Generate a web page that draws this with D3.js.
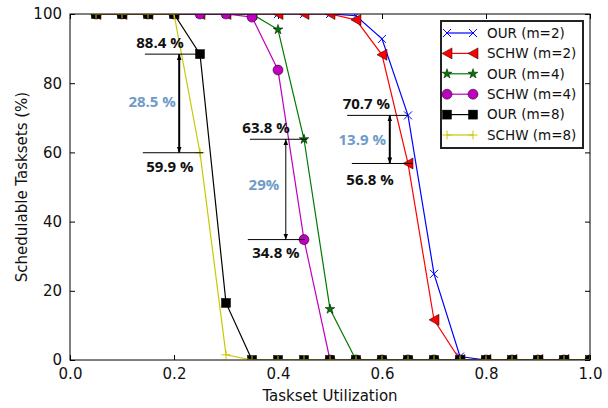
<!DOCTYPE html>
<html>
<head>
<meta charset="utf-8">
<script src="https://cdn.jsdelivr.net/npm/d3@7"></script>
<style>
  body { margin: 0; background: #fff; }
  svg { display: block; }
  .tick text { font-family: "DejaVu Sans", sans-serif; font-size: 15px; fill: #111; }
  .note { font-family: "Open Sans", sans-serif; font-weight: bold; font-size: 15px; }
</style>
</head>
<body>
<div id="chart"></div>
<script>
// utilization steps (x) and schedulable ratio per series (%)
var utilization = [0.05, 0.10, 0.15, 0.20, 0.25, 0.30, 0.35, 0.40, 0.45, 0.50,
                   0.55, 0.60, 0.65, 0.70, 0.75, 0.80, 0.85, 0.90, 0.95, 1.00];
var ourM2  = [100, 100, 100, 100, 100, 100, 100, 100, 100, 100, 99.5, 92.8, 70.7, 24.9, 1, 0, 0, 0, 0, 0];
var schwM2 = [100, 100, 100, 100, 100, 100, 100, 100, 100, 100, 98.3, 88.2, 56.8, 11.6, 0, 0, 0, 0, 0, 0];
var ourM4  = [100, 100, 100, 100, 100, 100, 100, 95.5, 63.8, 14.7, 0, 0, 0, 0, 0, 0, 0, 0, 0, 0];
var schwM4 = [100, 100, 100, 100, 100, 100, 99.1, 83.8, 34.8, 0, 0, 0, 0, 0, 0, 0, 0, 0, 0, 0];
var ourM8  = [100, 100, 100, 100, 88.4, 16.5, 0, 0, 0, 0, 0, 0, 0, 0, 0, 0, 0, 0, 0, 0];
var schwM8 = [100, 100, 100, 100, 59.9, 1.5, 0, 0, 0, 0, 0, 0, 0, 0, 0, 0, 0, 0, 0, 0];

var xTicks = [0.0, 0.2, 0.4, 0.6, 0.8, 1.0];
var yTicks = [0, 20, 40, 60, 80, 100];

var seriesNames = ["OUR (m=2)", "SCHW (m=2)", "OUR (m=4)", "SCHW (m=4)", "OUR (m=8)", "SCHW (m=8)"];
var seriesValues = [ourM2, schwM2, ourM4, schwM4, ourM8, schwM8];

// gap annotations: upper value, lower value, difference label
var gapHigh = [88.4, 63.8, 70.7];
var gapLow  = [59.9, 34.8, 56.8];
var gapText = ["28.5 %", "29%", "13.9 %"];

var styles = [
    {color: "#0000ff", marker: "x"},
    {color: "#ff0000", marker: "tri"},
    {color: "#007a00", marker: "star"},
    {color: "#bf00bf", marker: "circle"},
    {color: "#000000", marker: "square"},
    {color: "#c8c800", marker: "plus"}
];

var width = 608, height = 408;
var margin = {left: 70, right: 18, top: 14, bottom: 48};

var svg = d3.select("#chart").append("svg")
    .attr("width", width)
    .attr("height", height);

var x = d3.scaleLinear().domain([0, 1]).range([margin.left, width - margin.right]);
var y = d3.scaleLinear().domain([0, 100]).range([height - margin.bottom, margin.top]);

svg.append("clipPath").attr("id", "plot-clip")
    .append("rect")
    .attr("x", x(0)).attr("y", y(100))
    .attr("width", x(1) - x(0)).attr("height", y(0) - y(100));

// axes with inward ticks on all four sides
svg.append("g")
    .attr("transform", "translate(0," + y(0) + ")")
    .call(d3.axisBottom(x).tickValues(xTicks).tickFormat(d3.format(".1f")).tickSizeInner(-5).tickSizeOuter(0).tickPadding(8))
    .call(function(g) { g.select(".domain").remove(); });
svg.append("g")
    .attr("transform", "translate(0," + y(100) + ")")
    .call(d3.axisTop(x).tickValues(xTicks).tickFormat("").tickSizeInner(-5).tickSizeOuter(0))
    .call(function(g) { g.select(".domain").remove(); });
svg.append("g")
    .attr("transform", "translate(" + x(0) + ",0)")
    .call(d3.axisLeft(y).tickValues(yTicks).tickSizeInner(-5).tickSizeOuter(0).tickPadding(8))
    .call(function(g) { g.select(".domain").remove(); });
svg.append("g")
    .attr("transform", "translate(" + x(1) + ",0)")
    .call(d3.axisRight(y).tickValues(yTicks).tickFormat("").tickSizeInner(-5).tickSizeOuter(0))
    .call(function(g) { g.select(".domain").remove(); });

function drawMarker(g, kind, color) {
    if (kind == "x") {
        g.append("path").attr("d", "M-4,-4L4,4M-4,4L4,-4").attr("stroke", color).attr("stroke-width", 1).attr("fill", "none");
    } else if (kind == "plus") {
        g.append("path").attr("d", "M-4.5,0L4.5,0M0,-4.5L0,4.5").attr("stroke", color).attr("stroke-width", 1).attr("fill", "none");
    } else if (kind == "tri") {
        g.append("path").attr("d", "M-5,0L5,-5.5L5,5.5Z").attr("fill", color).attr("stroke", "#000").attr("stroke-width", 0.5);
    } else if (kind == "circle") {
        g.append("circle").attr("r", 5).attr("fill", color).attr("stroke", "#000").attr("stroke-width", 0.5);
    } else if (kind == "square") {
        g.append("rect").attr("x", -4.5).attr("y", -4.5).attr("width", 9).attr("height", 9).attr("fill", color).attr("stroke", "#000").attr("stroke-width", 0.5);
    } else if (kind == "star") {
        g.append("path").attr("d", d3.symbol(d3.symbolStar, 30)()).attr("fill", color).attr("stroke", "#000").attr("stroke-width", 0.5);
    }
}

var plot = svg.append("g").attr("clip-path", "url(#plot-clip)");
var line = d3.line()
    .x(function(d) { return x(d[0]); })
    .y(function(d) { return y(d[1]); });

seriesValues.forEach(function(vals, i) {
    var pts = utilization.map(function(u, j) { return [u, vals[j]]; });
    var g = plot.append("g");
    g.append("path")
        .attr("d", line(pts))
        .attr("fill", "none")
        .attr("stroke", styles[i].color)
        .attr("stroke-width", 1.2);
    pts.forEach(function(p) {
        var m = g.append("g").attr("transform", "translate(" + x(p[0]) + "," + y(p[1]) + ")");
        drawMarker(m, styles[i].marker, styles[i].color);
    });
});

// frame
svg.append("rect")
    .attr("x", x(0)).attr("y", y(100))
    .attr("width", x(1) - x(0)).attr("height", y(0) - y(100))
    .attr("fill", "none").attr("stroke", "#000").attr("stroke-width", 1);

// axis titles
svg.append("text")
    .attr("x", (x(0) + x(1)) / 2).attr("y", 401)
    .attr("text-anchor", "middle")
    .style("font-family", "DejaVu Sans, sans-serif").style("font-size", "15px").style("fill", "#111")
    .text("Taskset Utilization");
svg.append("text")
    .attr("transform", "translate(27," + ((y(0) + y(100)) / 2) + ") rotate(-90)")
    .attr("text-anchor", "middle")
    .style("font-family", "DejaVu Sans, sans-serif").style("font-size", "15px").style("fill", "#111")
    .text("Schedulable Tasksets (%)");

// annotations (layout in data units)
var gapLayout = [
    {arrowX: 0.21, hi: [0.144, 0.246], lo: [0.14, 0.256], hiLabelX: 0.173, loLabelX: 0.192, loDy: 19, midX: 0.158, midY: 74.6, thick: 2},
    {arrowX: 0.415, hi: [0.346, 0.456], lo: [0.342, 0.452], hiLabelX: 0.377, loLabelX: 0.396, loDy: 18, midX: 0.373, midY: 50.6, thick: 1},
    {arrowX: 0.615, hi: [0.533, 0.65], lo: [0.542, 0.658], hiLabelX: 0.57, loLabelX: 0.577, loDy: 22, midX: 0.562, midY: 63.6, thick: 2}
];

var defs = svg.append("defs");
defs.append("marker").attr("id", "ah").attr("viewBox", "0 0 10 10")
    .attr("refX", 10).attr("refY", 5)
    .attr("markerWidth", 6).attr("markerHeight", 6)
    .attr("markerUnits", "userSpaceOnUse")
    .attr("orient", "auto-start-reverse")
    .append("path").attr("d", "M0,1L10,5L0,9Z").attr("fill", "#000");

gapLayout.forEach(function(a, i) {
    var g = svg.append("g");
    g.append("line")
        .attr("x1", x(a.hi[0])).attr("x2", x(a.hi[1]))
        .attr("y1", y(gapHigh[i])).attr("y2", y(gapHigh[i]))
        .attr("stroke", "#000").attr("stroke-width", 1);
    g.append("line")
        .attr("x1", x(a.lo[0])).attr("x2", x(a.lo[1]))
        .attr("y1", y(gapLow[i])).attr("y2", y(gapLow[i]))
        .attr("stroke", "#000").attr("stroke-width", 1);
    g.append("line")
        .attr("x1", x(a.arrowX)).attr("x2", x(a.arrowX))
        .attr("y1", y(gapHigh[i])).attr("y2", y(gapLow[i]))
        .attr("stroke", "#000").attr("stroke-width", a.thick)
        .attr("marker-start", "url(#ah)").attr("marker-end", "url(#ah)");
    g.append("text").attr("class", "note")
        .attr("x", x(a.hiLabelX)).attr("y", y(gapHigh[i]) - 6)
        .attr("text-anchor", "middle").attr("fill", "#111")
        .text(gapHigh[i].toFixed(1) + " %");
    g.append("text").attr("class", "note")
        .attr("x", x(a.loLabelX)).attr("y", y(gapLow[i]) + a.loDy)
        .attr("text-anchor", "middle").attr("fill", "#111")
        .text(gapLow[i].toFixed(1) + " %");
    g.append("text").attr("class", "note")
        .attr("x", x(a.midX)).attr("y", y(a.midY))
        .attr("dy", "0.35em")
        .attr("text-anchor", "middle").attr("fill", "#6e9bc8")
        .text(gapText[i]);
});

// legend
var legend = svg.append("g").attr("transform", "translate(441,21)");
legend.append("rect")
    .attr("width", 142).attr("height", 127)
    .attr("fill", "#fff").attr("stroke", "#222").attr("stroke-width", 2);
seriesNames.forEach(function(name, i) {
    var row = legend.append("g").attr("transform", "translate(0," + (12 + i * 20.4) + ")");
    row.append("line").attr("x1", 6).attr("x2", 32).attr("y1", 0).attr("y2", 0)
        .attr("stroke", styles[i].color).attr("stroke-width", 1.2);
    [6, 32].forEach(function(px) {
        var m = row.append("g").attr("transform", "translate(" + px + ",0)");
        drawMarker(m, styles[i].marker, styles[i].color);
    });
    row.append("text")
        .attr("x", 46).attr("y", 0).attr("dy", "0.36em")
        .style("font-family", "DejaVu Sans, sans-serif").style("font-size", "13.5px").style("fill", "#111")
        .text(name);
});
</script>
</body>
</html>
